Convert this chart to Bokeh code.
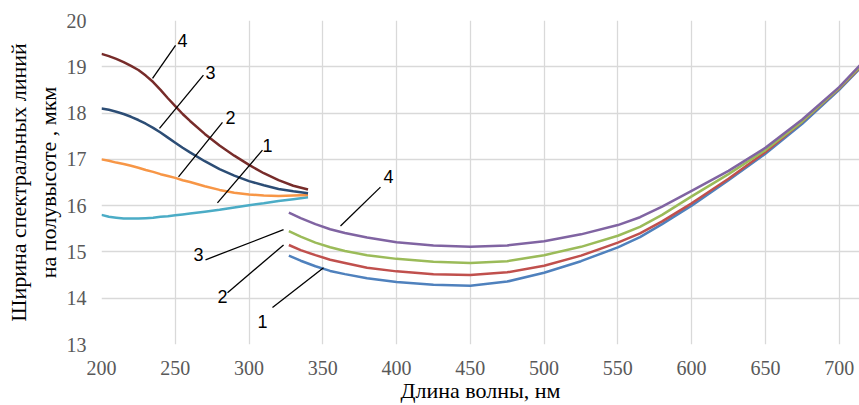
from bokeh.plotting import figure
from bokeh.models import Range1d, FixedTicker
from bokeh.core.properties import value
from bokeh.embed import file_html
from bokeh.resources import INLINE

# ---- data ----
x_left = [200, 205, 210, 215, 220, 225, 230, 235, 240, 245, 250, 255, 260, 270, 280, 290, 300, 310, 320, 330, 340]
left_1 = [15.80, 15.76, 15.74, 15.72, 15.72, 15.72, 15.73, 15.74, 15.76, 15.77, 15.79, 15.81, 15.83, 15.87, 15.91, 15.96, 16.01, 16.05, 16.10, 16.14, 16.18]
left_2 = [17.00, 16.97, 16.93, 16.90, 16.86, 16.82, 16.77, 16.73, 16.68, 16.64, 16.60, 16.55, 16.51, 16.42, 16.34, 16.28, 16.24, 16.22, 16.21, 16.22, 16.23]
left_3 = [18.10, 18.07, 18.03, 17.98, 17.92, 17.85, 17.77, 17.68, 17.58, 17.47, 17.36, 17.25, 17.15, 16.96, 16.79, 16.65, 16.53, 16.44, 16.36, 16.31, 16.27]
left_4 = [19.28, 19.23, 19.17, 19.10, 19.02, 18.93, 18.81, 18.67, 18.50, 18.32, 18.15, 17.98, 17.83, 17.55, 17.30, 17.08, 16.88, 16.70, 16.55, 16.43, 16.35]

x_right = [327, 335, 345, 355, 365, 380, 400, 425, 450, 475, 500, 525, 550, 565, 580, 600, 625, 650, 675, 700, 714]
right_1 = [14.92, 14.81, 14.69, 14.59, 14.52, 14.43, 14.35, 14.29, 14.27, 14.36, 14.55, 14.80, 15.10, 15.32, 15.60, 16.00, 16.55, 17.12, 17.77, 18.50, 18.96]
right_2 = [15.15, 15.04, 14.93, 14.83, 14.76, 14.66, 14.58, 14.52, 14.50, 14.56, 14.70, 14.92, 15.20, 15.40, 15.66, 16.05, 16.58, 17.16, 17.81, 18.53, 18.98]
right_3 = [15.45, 15.33, 15.20, 15.10, 15.02, 14.93, 14.85, 14.79, 14.76, 14.80, 14.93, 15.11, 15.35, 15.54, 15.80, 16.20, 16.68, 17.20, 17.82, 18.54, 19.00]
right_4 = [15.85, 15.73, 15.60, 15.49, 15.41, 15.31, 15.21, 15.14, 15.11, 15.14, 15.23, 15.38, 15.58, 15.75, 15.98, 16.32, 16.75, 17.25, 17.86, 18.56, 19.03]

x_ticks = [200, 250, 300, 350, 400, 450, 500, 550, 600, 650, 700]
y_ticks = [13, 14, 15, 16, 17, 18, 19, 20]

# curve-number call-outs: leader line ends and label anchor (data units)
labels_txt = ["4", "3", "2", "1", "4", "3", "2", "1"]
lead_x0 = [234.6, 239.3, 252.2, 278.6, 362.0, 270.5, 285.4, 315.9]
lead_y0 = [18.75, 17.67, 16.62, 16.06, 15.56, 14.83, 14.12, 13.80]
lead_x1 = [250.2, 269.1, 282.0, 309.1, 389.1, 323.4, 323.4, 350.5]
lead_y1 = [19.46, 18.82, 17.80, 17.20, 16.40, 15.48, 15.15, 14.66]
lab_x = [254.9, 273.9, 287.4, 312.5, 394.6, 265.8, 282.0, 309.1]
lab_y = [19.57, 18.88, 17.91, 17.31, 16.62, 14.94, 14.03, 13.50]

p = figure(width=859, height=405, output_backend="svg", toolbar_location=None,
           x_range=Range1d(200, 713.8), y_range=Range1d(13, 20),
           min_border_left=101, min_border_right=0, min_border_top=20, min_border_bottom=60)
p.outline_line_color = None
p.background_fill_color = "white"

for ax in (p.xaxis[0], p.yaxis[0]):
    ax.axis_line_color = None
    ax.major_tick_line_color = None
    ax.minor_tick_line_color = None
    ax.major_tick_out = 0
    ax.major_tick_in = 0
    ax.minor_tick_out = 0
    ax.minor_tick_in = 0
    ax.major_label_text_font = "Liberation Serif"
    ax.major_label_text_font_size = "20px"
    ax.major_label_text_color = "#595959"
    ax.axis_label_text_font = "Liberation Serif"
    ax.axis_label_text_font_size = "22px"
    ax.axis_label_text_font_style = "normal"
    ax.axis_label_text_color = "black"

p.xaxis.ticker = FixedTicker(ticks=x_ticks)
p.yaxis.ticker = FixedTicker(ticks=y_ticks)
p.xaxis.major_label_standoff = 16
p.yaxis.major_label_standoff = 15
p.xaxis.axis_label = "Длина волны, нм"
p.yaxis.axis_label = "Ширина спектральных линий\nна полувысоте , мкм"
p.xaxis.axis_label_standoff = 0
p.yaxis.axis_label_standoff = 3

p.xgrid.ticker = FixedTicker(ticks=x_ticks)
p.ygrid.ticker = FixedTicker(ticks=y_ticks)
p.xgrid.grid_line_color = "#d9d9d9"
p.ygrid.grid_line_color = "#d9d9d9"
p.xgrid.grid_line_width = 1.3
p.ygrid.grid_line_width = 1.3

lw = 2.5
p.line(x_left, left_1, line_color="#4bacc6", line_width=lw, line_join="round")
p.line(x_left, left_2, line_color="#f79646", line_width=lw, line_join="round")
p.line(x_left, left_3, line_color="#2c4d75", line_width=lw, line_join="round")
p.line(x_left, left_4, line_color="#772c2a", line_width=lw, line_join="round")

p.line(x_right, right_1, line_color="#4f81bd", line_width=lw, line_join="round")
p.line(x_right, right_2, line_color="#c0504d", line_width=lw, line_join="round")
p.line(x_right, right_3, line_color="#9bbb59", line_width=lw, line_join="round")
p.line(x_right, right_4, line_color="#8064a2", line_width=lw, line_join="round")

p.segment(x0=lead_x0, y0=lead_y0, x1=lead_x1, y1=lead_y1, line_color="black", line_width=1.3)
p.text(x=lab_x, y=lab_y, text=labels_txt, text_font=value("Liberation Sans"),
       text_font_size="18px", text_color="black", text_align="center", text_baseline="middle")

open("out.html", "w").write(file_html(p, INLINE))
